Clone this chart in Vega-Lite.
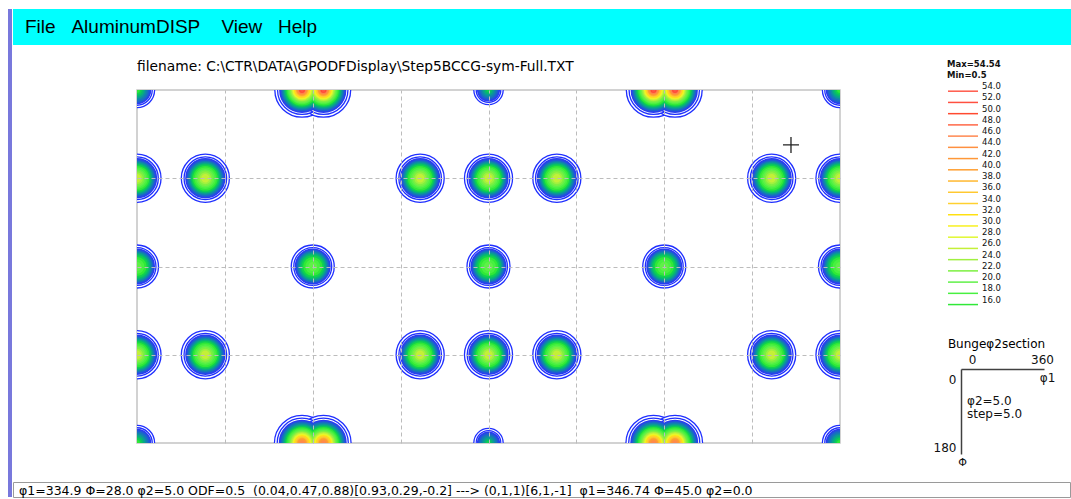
{
  "$schema": "https://vega.github.io/schema/vega-lite/v6.json",
  "padding": {"left": 8, "top": 9, "right": 0, "bottom": 0},
  "spacing": 0,
  "config": {
    "font": "Liberation Sans",
    "view": {"stroke": null},
    "title": {"font": "Liberation Sans", "fontWeight": "normal", "color": "#000000"}
  },
  "datasets": {
    "spots": [
      {"phi1": 0, "Phi": 45, "shape": "A"},
      {"phi1": 35, "Phi": 45, "shape": "A"},
      {"phi1": 145, "Phi": 45, "shape": "A"},
      {"phi1": 180, "Phi": 45, "shape": "A"},
      {"phi1": 215, "Phi": 45, "shape": "A"},
      {"phi1": 325, "Phi": 45, "shape": "A"},
      {"phi1": 360, "Phi": 45, "shape": "A"},
      {"phi1": 0, "Phi": 135, "shape": "A"},
      {"phi1": 35, "Phi": 135, "shape": "A"},
      {"phi1": 145, "Phi": 135, "shape": "A"},
      {"phi1": 180, "Phi": 135, "shape": "A"},
      {"phi1": 215, "Phi": 135, "shape": "A"},
      {"phi1": 325, "Phi": 135, "shape": "A"},
      {"phi1": 360, "Phi": 135, "shape": "A"},
      {"phi1": 0, "Phi": 90, "shape": "B"},
      {"phi1": 90, "Phi": 90, "shape": "B"},
      {"phi1": 180, "Phi": 90, "shape": "B"},
      {"phi1": 270, "Phi": 90, "shape": "B"},
      {"phi1": 360, "Phi": 90, "shape": "B"},
      {"phi1": 84.5, "Phi": 0, "shape": "C"},
      {"phi1": 95.5, "Phi": 0, "shape": "C"},
      {"phi1": 264.5, "Phi": 0, "shape": "C"},
      {"phi1": 275.5, "Phi": 0, "shape": "C"},
      {"phi1": 0, "Phi": 0, "shape": "D"},
      {"phi1": 360, "Phi": 0, "shape": "D"},
      {"phi1": 180, "Phi": 0, "shape": "E"},
      {"phi1": 84.5, "Phi": 180, "shape": "C2"},
      {"phi1": 95.5, "Phi": 180, "shape": "C2"},
      {"phi1": 264.5, "Phi": 180, "shape": "C2"},
      {"phi1": 275.5, "Phi": 180, "shape": "C2"},
      {"phi1": 0, "Phi": 180, "shape": "D"},
      {"phi1": 360, "Phi": 180, "shape": "D"},
      {"phi1": 180, "Phi": 180, "shape": "E"}
    ],
    "profiles": [
      {"shape": "A",
       "ringLevel": [0.5, 1], "ringRadius": [12.3, 10.9],
       "level": [2, 4, 6, 8, 10, 12, 14, 16, 18, 20, 22, 24, 26],
       "radius": [9.8, 9.1, 8.5, 8.0, 7.5, 7.0, 6.5, 5.8, 5.0, 4.2, 3.4, 2.5, 1.6]},
      {"shape": "B",
       "ringLevel": [0.5, 1], "ringRadius": [11.0, 9.7],
       "level": [2, 4, 6, 8, 10, 12, 14, 16, 18, 20],
       "radius": [8.7, 8.0, 7.5, 7.0, 6.5, 6.0, 5.3, 4.4, 3.2, 1.8]},
      {"shape": "C",
       "ringLevel": [0.5, 1], "ringRadius": [13.9, 12.5],
       "level": [2, 4, 6, 8, 10, 12, 14, 16, 18, 20, 22, 24, 26, 28, 30, 32, 34, 36, 38, 40, 42, 44, 46, 48, 50, 52, 54],
       "radius": [11.2, 10.5, 10.0, 9.5, 9.0, 8.5, 8.0, 7.4, 6.8, 6.3, 5.8, 5.3, 4.8, 4.4, 4.0, 3.6, 3.3, 3.0, 2.7, 2.4, 2.1, 1.8, 1.5, 1.2, 0.9, 0.6, 0.3]},
      {"shape": "C2",
       "ringLevel": [0.5, 1], "ringRadius": [14.1, 12.7],
       "level": [2, 4, 6, 8, 10, 12, 14, 16, 18, 20, 22, 24, 26, 28, 30, 32, 34, 36, 38, 40, 42, 44, 46],
       "radius": [11.4, 10.7, 10.2, 9.6, 9.1, 8.6, 8.1, 7.5, 6.9, 6.3, 5.8, 5.3, 4.8, 4.3, 3.9, 3.5, 3.1, 2.7, 2.3, 1.9, 1.5, 1.0, 0.5]},
      {"shape": "D",
       "ringLevel": [0.5, 1], "ringRadius": [9.0, 7.8],
       "level": [2, 4, 6, 8, 10, 12, 14, 16],
       "radius": [6.8, 6.1, 5.4, 4.6, 3.8, 3.0, 2.0, 1.0]},
      {"shape": "E",
       "ringLevel": [0.5, 1], "ringRadius": [7.5, 6.3],
       "level": [2, 4, 6, 8, 10, 12, 14],
       "radius": [5.4, 4.7, 4.0, 3.2, 2.4, 1.5, 0.7]}
    ],
    "cursor": [{"phi1": 334.9, "Phi": 28.0}],
    "windowEdge": [{"part": "frame"}],
    "section": [{"note": "φ2=5.0\nstep=5.0"}]
  },
  "hconcat": [
    {
      "width": 4,
      "height": 488,
      "data": {"name": "windowEdge"},
      "mark": {"type": "rect", "color": "#7878dc"}
    },
    {
      "spacing": 0,
      "vconcat": [
        {
          "width": 1058,
          "height": 36,
          "view": {"fill": "#00ffff"},
          "title": {
            "text": "File\u00a0\u00a0\u00a0AluminumDISP\u00a0\u00a0\u00a0\u00a0View\u00a0\u00a0\u00a0Help",
            "orient": "top", "anchor": "start", "frame": "group",
            "dx": 12, "offset": -28, "fontSize": 19
          },
          "data": {"values": []},
          "mark": "point"
        },
        {
          "spacing": 0,
          "hconcat": [
            {"width": 123, "height": 436, "data": {"values": []}, "mark": "point"},
            {
              "spacing": 0,
              "vconcat": [
                {
                  "width": 703,
                  "height": 44,
                  "title": {
                    "text": "filename: C:\\CTR\\DATA\\GPODFDisplay\\Step5BCCG-sym-Full.TXT",
                    "orient": "top", "anchor": "start", "frame": "group",
                    "offset": -29, "fontSize": 13.8, "font": "DejaVu Sans"
                  },
                  "data": {"values": []},
                  "mark": "point"
                },
                {
                  "width": 703,
                  "height": 353,
                  "view": {"stroke": "#c4c4c4", "strokeWidth": 1.5},
                  "encoding": {
                    "x": {
                      "field": "phi1", "type": "quantitative",
                      "scale": {"domain": [0, 360], "nice": false, "zero": false},
                      "axis": {"values": [45, 90, 135, 180, 225, 270, 315], "grid": true, "gridDash": [4, 3], "gridColor": "#bcbcbc", "gridWidth": 1, "labels": false, "ticks": false, "domain": false, "title": null, "zindex": 1}
                    },
                    "y": {
                      "field": "Phi", "type": "quantitative",
                      "scale": {"domain": [0, 180], "nice": false, "zero": false, "reverse": true},
                      "axis": {"values": [45, 90, 135], "grid": true, "gridDash": [4, 3], "gridColor": "#bcbcbc", "gridWidth": 1, "labels": false, "ticks": false, "domain": false, "title": null, "zindex": 1}
                    }
                  },
                  "layer": [
                    {
                      "data": {"name": "spots"},
                      "transform": [
                        {"lookup": "shape", "from": {"data": {"name": "profiles"}, "key": "shape", "fields": ["ringLevel", "ringRadius"]}},
                        {"flatten": ["ringLevel", "ringRadius"]}
                      ],
                      "mark": {"type": "point", "shape": "circle", "filled": true, "fill": "#ffffff", "stroke": "#1f2fff", "strokeWidth": 1.3, "opacity": 1, "clip": true},
                      "encoding": {
                        "size": {
                          "field": "ringRadius", "type": "quantitative",
                          "scale": {"type": "pow", "exponent": 2, "domain": [0, 30], "range": [0, 13759], "zero": true},
                          "legend": null
                        },
                        "order": {"field": "ringLevel", "type": "quantitative", "sort": "ascending"}
                      }
                    },
                    {
                      "data": {"name": "spots"},
                      "transform": [
                        {"lookup": "shape", "from": {"data": {"name": "profiles"}, "key": "shape", "fields": ["level", "radius"]}},
                        {"flatten": ["level", "radius"]}
                      ],
                      "mark": {"type": "point", "shape": "circle", "filled": true, "opacity": 1, "clip": true},
                      "encoding": {
                        "size": {
                          "field": "radius", "type": "quantitative",
                          "scale": {"type": "pow", "exponent": 2, "domain": [0, 30], "range": [0, 13759], "zero": true},
                          "legend": null
                        },
                        "fill": {
                          "field": "level", "type": "ordinal",
                          "scale": {
                            "domain": [54, 52, 50, 48, 46, 44, 42, 40, 38, 36, 34, 32, 30, 28, 26, 24, 22, 20, 18, 16, 14, 12, 10, 8, 6, 4, 2],
                            "range": ["#ff5a4a", "#ff5040", "#ff4a30", "#ff6848", "#ff8850", "#ff9040", "#ff9838", "#ff9e30", "#ffb830", "#ffc830", "#ffd030", "#ffe010", "#f8f020", "#e0f830", "#c4f038", "#a0f040", "#7cf040", "#60f048", "#48f040", "#30e838", "#10d050", "#08b870", "#0aa090", "#1088a8", "#1870c0", "#2058d8", "#2a3cf0"]
                          },
                          "legend": null
                        },
                        "stroke": {
                          "field": "level", "type": "ordinal",
                          "scale": {
                            "domain": [2, 4, 6, 8, 10, 12, 14, 16, 18, 20, 22, 24, 26, 28, 30, 32, 34, 36, 38, 40, 42, 44, 46, 48, 50, 52, 54],
                            "range": ["#2a3cf0", "#2058d8", "#1870c0", "#1088a8", "#0aa090", "#08b870", "#10d050", "#30e838", "#48f040", "#60f048", "#7cf040", "#a0f040", "#c4f038", "#e0f830", "#f8f020", "#ffe010", "#ffd030", "#ffc830", "#ffb830", "#ff9e30", "#ff9838", "#ff9040", "#ff8850", "#ff6848", "#ff4a30", "#ff5040", "#ff5a4a"]
                          },
                          "legend": {
                            "orient": "none", "legendX": 939, "legendY": 51,
                            "values": [54, 52, 50, 48, 46, 44, 42, 40, 38, 36, 34, 32, 30, 28, 26, 24, 22, 20, 18, 16],
                            "title": ["Max=54.54", "Min=0.5"],
                            "titleFont": "DejaVu Sans", "titleFontSize": 8.5, "titleFontWeight": "bold", "titleLineHeight": 11, "titlePadding": 6.7, "titleColor": "#111111",
                            "labelFont": "DejaVu Sans", "labelFontSize": 8.5, "labelColor": "#111111", "labelBaseline": "bottom",
                            "labelExpr": "format(datum.value, '.1f')",
                            "symbolType": "M-3.75,0H3.75", "symbolSize": 64, "symbolOffset": 11, "symbolStrokeWidth": 1.5, "labelOffset": 14,
                            "rowPadding": -0.77, "padding": 0
                          }
                        },
                        "order": {"field": "level", "type": "quantitative", "sort": "ascending"}
                      }
                    },
                    {
                      "data": {"name": "cursor"},
                      "mark": {"type": "point", "shape": "M-1,0H1M0,-1V1", "size": 256, "filled": false, "stroke": "#222222", "strokeWidth": 1.3, "opacity": 1}
                    }
                  ]
                }
              ]
            },
            {"width": 92, "height": 436, "data": {"values": []}, "mark": "point"},
            {
              "spacing": 0,
              "vconcat": [
                {"width": 83, "height": 293, "data": {"values": []}, "mark": "point"},
                {
                  "width": 83,
                  "height": 85,
                  "title": {"text": "Bungeφ2section", "fontSize": 12, "font": "DejaVu Sans", "anchor": "middle", "dx": -6, "offset": 2},
                  "data": {"name": "section"},
                  "mark": {"type": "text", "align": "left", "baseline": "top", "lineBreak": "\n", "font": "DejaVu Sans", "fontSize": 12, "lineHeight": 13, "color": "#111111"},
                  "encoding": {
                    "x": {
                      "datum": 26, "type": "quantitative",
                      "scale": {"domain": [0, 360], "nice": false, "zero": false},
                      "axis": {
                        "orient": "top", "values": [0, 360], "ticks": false, "grid": false,
                        "domain": true, "domainColor": "#404040", "domainWidth": 1.5,
                        "labelFlush": false, "labelOverlap": false, "labelFont": "DejaVu Sans", "labelFontSize": 12, "labelPadding": 3, "labelColor": "#111111",
                        "labelOffset": {"condition": {"test": "datum.value === 0", "value": 11}, "value": -2},
                        "title": "φ1", "titleX": 86, "titleY": 8, "titleFont": "DejaVu Sans", "titleFontSize": 12, "titleFontWeight": "normal",
                        "titleAlign": "center", "titleBaseline": "middle", "titleAngle": 0, "titleColor": "#111111"
                      }
                    },
                    "y": {
                      "datum": 57, "type": "quantitative",
                      "scale": {"domain": [0, 180], "nice": false, "zero": false, "reverse": true},
                      "axis": {
                        "orient": "left", "values": [0, 180], "ticks": false, "grid": false,
                        "domain": true, "domainColor": "#404040", "domainWidth": 1.5,
                        "labelFlush": false, "labelOverlap": false, "labelFont": "DejaVu Sans", "labelFontSize": 12, "labelPadding": 5, "labelBaseline": "middle", "labelColor": "#111111",
                        "labelOffset": {"condition": {"test": "datum.value === 0", "value": 10}, "value": -7},
                        "title": "Φ", "titleX": 1, "titleY": 93, "titleAngle": 0, "titleAlign": "center", "titleBaseline": "middle",
                        "titleFont": "DejaVu Sans", "titleFontWeight": "normal", "titleFontSize": 11, "titleColor": "#111111"
                      }
                    },
                    "text": {"field": "note"}
                  }
                }
              ]
            }
          ]
        },
        {
          "width": 1057,
          "height": 15,
          "view": {"fill": "#ffffff", "stroke": "#9a9a9a", "strokeWidth": 1},
          "title": {
            "text": "φ1=334.9 Φ=28.0 φ2=5.0 ODF=0.5\u00a0\u00a0(0.04,0.47,0.88)[0.93,0.29,-0.2] ---> (0,1,1)[6,1,-1]\u00a0\u00a0φ1=346.74 Φ=45.0 φ2=0.0",
            "orient": "top", "anchor": "start", "frame": "group",
            "dx": 6, "offset": -15, "fontSize": 12.5, "font": "DejaVu Sans"
          },
          "data": {"values": []},
          "mark": "point"
        }
      ]
    }
  ]
}
